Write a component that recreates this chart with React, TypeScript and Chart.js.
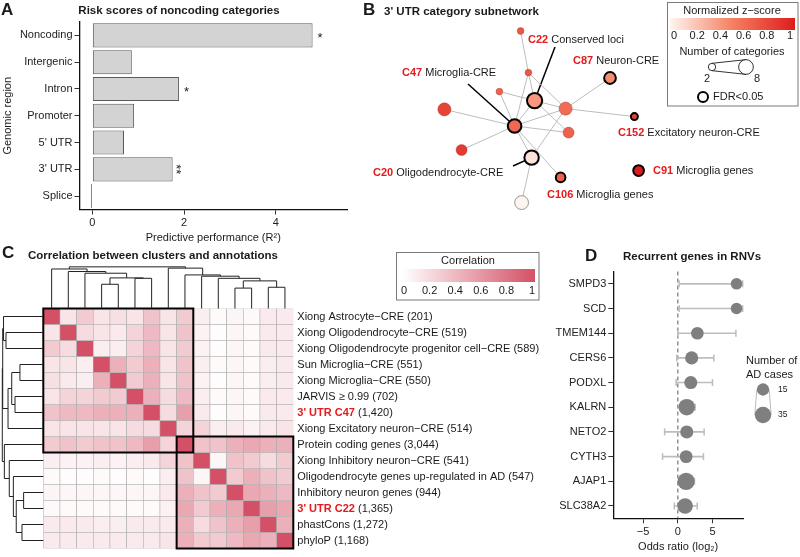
import React, { useEffect, useRef } from "react";
import { Chart, registerables } from "chart.js";

Chart.register(...registerables);

const W = 800;
const H = 557;
const FONT = "'Liberation Sans', Arial, Helvetica, sans-serif";
const RED = "#E41A1C";
const INK = "#1a1a1a";

/* ---------------- Panel A data ---------------- */
const regionsA = ["Noncoding", "Intergenic", "Intron", "Promoter", "5' UTR", "3' UTR", "Splice"];
const perfA = [4.8, 0.86, 1.89, 0.91, 0.69, 1.75, -0.03];
const signifA = ["*", "", "*", "", "", "**", ""];
const ticksA = [0, 2, 4];

/* ---------------- Panel B data ---------------- */
const nodeIds = ["", "", "", "C22", "C47", "", "", "C20", "", "C87", "", "", "C152", "C91", "C106"];
const nodeX = [5.03, 5.42, 3.97, 5.73, 4.73, 1.22, 2.08, 5.58, 5.08, 9.5, 7.28, 7.43, 10.72, 10.93, 7.03];
const nodeY = [0.3, 2.38, 3.33, 3.78, 5.05, 4.22, 6.25, 6.63, 8.88, 2.65, 4.18, 5.38, 4.58, 7.28, 7.62];
const nodeZ = [0.7, 0.7, 0.65, 0.4, 0.62, 0.8, 0.85, 0.08, 0.0, 0.45, 0.6, 0.65, 0.8, 1.0, 0.65];
const nodeCategories = [2, 2, 2, 11, 9, 7, 5, 10, 8, 7, 7, 5, 3, 6, 5];
const nodeFDR = [false, false, false, true, true, false, false, true, false, true, false, false, true, true, true];
const edgeFrom = [0, 1, 1, 1, 2, 2, 5, 6, 4, 4, 4, 4, 4, 3, 3, 10, 10, 10, 7];
const edgeTo = [1, 4, 3, 10, 4, 3, 4, 4, 3, 10, 11, 7, 14, 10, 11, 9, 12, 7, 8];
const labelNode = [3, 4, 9, 12, 13, 14, 7];
const labelDesc = ["Conserved loci", "Microglia-CRE", "Neuron-CRE", "Excitatory neuron-CRE", "Microglia genes", "Microglia genes", "Oligodendrocyte-CRE"];
const zTicks = [0, 0.2, 0.4, 0.6, 0.8, 1];
const categoryBreaks = [2, 8];

/* ---------------- Panel C data ---------------- */
const annotNames = [
  "Xiong Astrocyte\u2212CRE",
  "Xiong Oligodendrocyte\u2212CRE",
  "Xiong Oligodendrocyte progenitor cell\u2212CRE",
  "Sun Microglia\u2212CRE",
  "Xiong Microglia\u2212CRE",
  "JARVIS \u2265 0.99",
  "3' UTR C47",
  "Xiong Excitatory neuron\u2212CRE",
  "Protein coding genes",
  "Xiong Inhibitory neuron\u2212CRE",
  "Oligodendrocyte genes up-regulated in AD",
  "Inhibitory neuron genes",
  "3' UTR C22",
  "phastCons",
  "phyloP",
];
const annotCounts = ["(201)", "(519)", "(589)", "(551)", "(550)", "(702)", "(1,420)", "(514)", "(3,044)", "(541)", "(547)", "(944)", "(1,365)", "(1,272)", "(1,168)"];
const annotHighlight = [false, false, false, false, false, false, true, false, false, false, false, false, true, false, false];
const corrMatrix = [
  [1, 0.15, 0.3, 0.15, 0.18, 0.15, 0.35, 0.15, 0.3, 0.1, 0.03, 0.06, 0.04, 0.12, 0.12],
  [0.15, 1, 0.2, 0.15, 0.12, 0.25, 0.4, 0.15, 0.35, 0.08, 0.02, 0.05, 0.03, 0.12, 0.12],
  [0.3, 0.2, 1, 0.1, 0.1, 0.25, 0.4, 0.15, 0.3, 0.08, 0.02, 0.05, 0.03, 0.12, 0.12],
  [0.15, 0.15, 0.1, 1, 0.45, 0.3, 0.45, 0.15, 0.35, 0.1, 0.03, 0.05, 0.03, 0.1, 0.12],
  [0.18, 0.12, 0.1, 0.45, 1, 0.3, 0.45, 0.15, 0.35, 0.08, 0.02, 0.05, 0.03, 0.1, 0.12],
  [0.15, 0.25, 0.25, 0.3, 0.3, 1, 0.45, 0.2, 0.4, 0.1, 0.03, 0.05, 0.03, 0.12, 0.12],
  [0.35, 0.4, 0.4, 0.45, 0.45, 0.45, 1, 0.2, 0.55, 0.12, 0.02, 0.05, 0.03, 0.12, 0.12],
  [0.15, 0.15, 0.15, 0.15, 0.15, 0.2, 0.2, 1, 0.25, 0.25, 0.1, 0.12, 0.08, 0.12, 0.15],
  [0.3, 0.35, 0.3, 0.35, 0.35, 0.4, 0.55, 0.25, 1, 0.35, 0.35, 0.45, 0.5, 0.45, 0.45],
  [0.1, 0.08, 0.08, 0.1, 0.08, 0.1, 0.12, 0.25, 0.35, 1, 0.05, 0.35, 0.3, 0.2, 0.3],
  [0.03, 0.02, 0.02, 0.03, 0.02, 0.03, 0.02, 0.1, 0.35, 0.05, 1, 0.3, 0.45, 0.35, 0.3],
  [0.06, 0.05, 0.05, 0.05, 0.05, 0.05, 0.05, 0.12, 0.45, 0.35, 0.3, 1, 0.5, 0.45, 0.4],
  [0.04, 0.03, 0.03, 0.03, 0.03, 0.03, 0.03, 0.08, 0.5, 0.3, 0.45, 0.5, 1, 0.55, 0.5],
  [0.12, 0.12, 0.12, 0.1, 0.1, 0.12, 0.12, 0.12, 0.45, 0.2, 0.35, 0.45, 0.55, 1, 0.45],
  [0.12, 0.12, 0.12, 0.12, 0.12, 0.12, 0.12, 0.15, 0.45, 0.3, 0.3, 0.4, 0.5, 0.45, 1],
];
// linkage: [childA, childB, height]; leaves 0..14, merged nodes 15..
const colMerges = [
  [3, 4, 0.57], [5, 6, 0.71], [15, 16, 0.72], [2, 17, 0.83], [1, 18, 0.87], [0, 19, 0.93],
  [11, 12, 0.48], [13, 14, 0.5], [21, 22, 0.65], [10, 23, 0.71], [9, 24, 0.76], [8, 25, 0.79], [7, 26, 0.95],
  [20, 27, 0.98],
];
const rowMerges = [
  [1, 2, 0.91], [0, 15, 0.97], [3, 4, 0.57], [5, 6, 0.69], [17, 18, 0.77], [19, 7, 0.86], [16, 20, 0.99],
  [11, 12, 0.48], [13, 14, 0.52], [22, 23, 0.66], [10, 24, 0.73], [9, 25, 0.83], [8, 26, 0.95],
  [21, 27, 1.0],
];
const clusterBlocks = [[0, 8], [8, 14]];
const corrTicks = [0, 0.2, 0.4, 0.6, 0.8, 1];

/* ---------------- Panel D data ---------------- */
const genesD = ["SMPD3", "SCD", "TMEM144", "CERS6", "PODXL", "KALRN", "NETO2", "CYTH3", "AJAP1", "SLC38A2"];
const logOR = [8.47, 8.47, 2.82, 2.0, 1.87, 1.29, 1.29, 1.2, 1.2, 1.05];
const ciLow = [0.19, 0.2, 0.0, -0.15, -0.25, 0.3, -1.9, -2.2, 0.2, -0.5];
const ciHigh = [9.35, 9.35, 8.38, 5.2, 5.0, 2.5, 3.8, 3.7, 2.4, 2.8];
const adCases = [12, 12, 16, 18, 18, 36, 18, 17, 40, 30];
const ticksD = [-5, 0, 5];
const caseBreaks = [15, 35];

/* ---------------- helpers ---------------- */
function mix(a: number[], b: number[], t: number) {
  return a.map((v, i) => Math.round(v + (b[i] - v) * t));
}
function corrColor(v: number) {
  const t = Math.max(0, Math.min(1, v));
  return `rgb(${mix([255, 255, 255], [212, 80, 102], t).join(",")})`;
}
function zColor(z: number) {
  const a = [255, 245, 240], m = [245, 128, 98], b = [222, 28, 28];
  const c = z < 0.5 ? mix(a, m, z / 0.5) : mix(m, b, (z - 0.5) / 0.5);
  return `rgb(${c.join(",")})`;
}
const nodeRadius = (n: number) => 2.6 * Math.sqrt(n);
const caseRadius = (n: number) => 2.3 + Math.sqrt(n);

function text(ctx: any, s: string, x: number, y: number, size: number, o: any = {}) {
  ctx.font = `${o.bold ? "bold " : ""}${size}px ${FONT}`;
  ctx.fillStyle = o.color || INK;
  ctx.textAlign = o.align || "left";
  ctx.textBaseline = "middle";
  ctx.fillText(s, x, y);
  return ctx.measureText(s).width;
}

function dendro(n: number, merges: number[][]) {
  const pos: number[] = [];
  const hgt: number[] = [];
  for (let i = 0; i < n; i++) { pos.push(i); hgt.push(0); }
  merges.forEach(([a, b, h]) => { pos.push((pos[a] + pos[b]) / 2); hgt.push(h); });
  return { pos, hgt };
}

const axisFont = { family: FONT, size: 11 };
const gridCfg = { drawOnChartArea: false, drawTicks: true, tickLength: 5, color: "#333", lineWidth: 1, offset: false };
const borderCfg = { display: true, color: "#111", width: 1.3 };

/* ---------------- Panel A ---------------- */
function makeA(): any {
  const plug = {
    id: "panelA",
    afterDatasetsDraw(chart: any) {
      const { ctx } = chart;
      const xs = chart.scales.x, ys = chart.scales.y;
      ctx.save();
      signifA.forEach((s, i) => {
        if (!s) return;
        const x = xs.getPixelForValue(Math.max(perfA[i], 0));
        const y = ys.getPixelForValue(i);
        if (s.length === 1) {
          text(ctx, s, x + 5, y + 3, 13);
        } else {
          ctx.save();
          ctx.translate(x + 6, y);
          ctx.rotate(Math.PI / 2);
          text(ctx, s, 0, 3, 13, { align: "center" });
          ctx.restore();
        }
      });
      text(ctx, "A", 1, 10, 17, { bold: true });
      text(ctx, "Risk scores of noncoding categories", 179, 11, 11.5, { bold: true, align: "center" });
      ctx.restore();
    },
  };
  return {
    type: "bar",
    data: {
      labels: regionsA,
      datasets: [{
        data: perfA, backgroundColor: "#D3D3D3", borderColor: "#5A5A5A", borderWidth: 1,
        borderSkipped: false, barPercentage: 0.9, categoryPercentage: 1,
      }],
    },
    options: {
      indexAxis: "y", responsive: false, animation: false,
      plugins: { legend: { display: false }, tooltip: { enabled: false } },
      layout: { padding: { left: 0, top: 22, right: 453, bottom: 312.5 } },
      scales: {
        x: {
          type: "linear", min: -0.28, max: 5.55,
          afterBuildTicks: (s: any) => { s.ticks = ticksA.map((v) => ({ value: v })); },
          grid: gridCfg, border: borderCfg,
          ticks: { font: axisFont, color: "#222", padding: 2, maxRotation: 0 },
          title: { display: true, text: "Predictive performance (R\u00B2)", font: axisFont, color: INK, padding: { top: 0, bottom: 0 } },
          afterFit: (s: any) => { s.height = 35; },
        },
        y: {
          type: "category", grid: gridCfg, border: borderCfg,
          ticks: { font: axisFont, color: "#222", padding: 2 },
          title: { display: true, text: "Genomic region", font: axisFont, color: INK, padding: { top: 1, bottom: 0 } },
          afterFit: (s: any) => { s.width = 79.5; },
        },
      },
    },
    plugins: [plug],
  };
}

/* ---------------- Panel B ---------------- */
const labelLayoutB = [
  { x: 528, y: 40, lx: 555, ly: 47 },
  { x: 402, y: 73, lx: 468, ly: 84 },
  { x: 573, y: 61 },
  { x: 618, y: 133 },
  { x: 653, y: 171 },
  { x: 547, y: 195 },
  { x: 373, y: 173, lx: 513, ly: 166 },
];

function makeB(): any {
  const bw = nodeFDR.map((f, i) => (f ? 2 : nodeZ[i] < 0.05 ? 0.9 : 0.6));
  const bc = nodeFDR.map((f, i) => (f ? "#000" : nodeZ[i] < 0.05 ? "#8a8a8a" : "rgba(150,40,25,0.6)"));
  const plug = {
    id: "panelB",
    beforeDatasetsDraw(chart: any) {
      const { ctx } = chart;
      const xs = chart.scales.x, ys = chart.scales.y;
      ctx.save();
      ctx.strokeStyle = "#000";
      ctx.lineWidth = 1.5;
      labelNode.forEach((n, k) => {
        const L: any = labelLayoutB[k];
        if (L.lx === undefined) return;
        ctx.beginPath();
        ctx.moveTo(L.lx, L.ly);
        ctx.lineTo(xs.getPixelForValue(nodeX[n]), ys.getPixelForValue(nodeY[n]));
        ctx.stroke();
      });
      ctx.restore();
    },
    afterDatasetsDraw(chart: any) {
      const { ctx } = chart;
      ctx.save();
      text(ctx, "B", 363, 10, 17, { bold: true });
      text(ctx, "3' UTR category subnetwork", 384, 12, 11.5, { bold: true });
      labelNode.forEach((n, k) => {
        const L = labelLayoutB[k];
        const w = text(ctx, nodeIds[n], L.x, L.y, 11, { bold: true, color: RED });
        text(ctx, " " + labelDesc[k], L.x + w, L.y, 11);
      });
      // legend box
      ctx.strokeStyle = "#7a7a7a";
      ctx.lineWidth = 1;
      ctx.strokeRect(667.5, 2.5, 130.5, 103.5);
      text(ctx, "Normalized z\u2212score", 732, 10.5, 11, { align: "center" });
      const g = ctx.createLinearGradient(670, 0, 795, 0);
      for (let i = 0; i <= 10; i++) g.addColorStop(i / 10, zColor(i / 10));
      ctx.fillStyle = g;
      ctx.fillRect(670, 18, 125, 12);
      zTicks.forEach((t) => text(ctx, String(t), 674 + t * 116, 36, 11, { align: "center" }));
      text(ctx, "Number of categories", 732, 52, 11, { align: "center" });
      const r1 = nodeRadius(categoryBreaks[0]), r2 = nodeRadius(categoryBreaks[1]);
      const c1 = [712, 67], c2 = [746, 67];
      ctx.strokeStyle = "#000";
      ctx.lineWidth = 0.8;
      ctx.beginPath();
      ctx.moveTo(c1[0], c1[1] - r1); ctx.lineTo(c2[0], c2[1] - r2);
      ctx.moveTo(c1[0], c1[1] + r1); ctx.lineTo(c2[0], c2[1] + r2);
      ctx.stroke();
      [[c1, r1], [c2, r2]].forEach(([c, r]: any) => {
        ctx.beginPath(); ctx.arc(c[0], c[1], r, 0, Math.PI * 2);
        ctx.fillStyle = "#fff"; ctx.fill(); ctx.stroke();
      });
      text(ctx, String(categoryBreaks[0]), 707, 79, 11, { align: "center" });
      text(ctx, String(categoryBreaks[1]), 757, 79, 11, { align: "center" });
      ctx.lineWidth = 2;
      ctx.beginPath(); ctx.arc(703, 97, 5, 0, Math.PI * 2); ctx.stroke();
      text(ctx, "FDR<0.05", 713, 97, 11);
      ctx.restore();
    },
  };
  const edgeSets = edgeFrom.map((a, k) => {
    const b = edgeTo[k];
    return {
      type: "scatter",
      data: [{ x: nodeX[a], y: nodeY[a] }, { x: nodeX[b], y: nodeY[b] }],
      showLine: true, borderColor: "#BDBDBD", borderWidth: 1, pointRadius: 0, order: 1, clip: false,
    };
  });
  return {
    type: "scatter",
    data: {
      datasets: [
        {
          data: nodeX.map((x, i) => ({ x, y: nodeY[i] })),
          pointRadius: nodeCategories.map((n, i) => nodeRadius(n) - bw[i] / 2),
          pointBackgroundColor: nodeZ.map(zColor),
          pointBorderColor: bc, pointBorderWidth: bw, order: 0, clip: false,
        },
        ...edgeSets,
      ],
    },
    options: {
      responsive: false, animation: false,
      plugins: { legend: { display: false }, tooltip: { enabled: false } },
      layout: { padding: { left: 420, right: 140, top: 25, bottom: 352 } },
      scales: {
        x: { type: "linear", min: 0, max: 12, display: false },
        y: { type: "linear", min: 0, max: 9, reverse: true, display: false },
      },
    },
    plugins: [plug],
  };
}

/* ---------------- Panel C ---------------- */
function makeC(): any {
  const n = annotNames.length;
  const plug = {
    id: "panelC",
    afterDatasetsDraw(chart: any) {
      const { ctx, chartArea: ca } = chart;
      const xs = chart.scales.x, ys = chart.scales.y;
      ctx.save();
      const bwid = (ca.right - ca.left) / n;
      ctx.strokeStyle = "#000";
      ctx.lineWidth = 2;
      clusterBlocks.forEach(([a, b]) => {
        const x1 = xs.getPixelForValue(a) - bwid / 2, x2 = xs.getPixelForValue(b) + bwid / 2;
        const y1 = ys.getPixelForValue(a), y2 = ys.getPixelForValue(b + 1);
        ctx.strokeRect(x1, y1, x2 - x1, y2 - y1);
      });
      ctx.strokeStyle = "#222";
      ctx.lineWidth = 1;
      const top = dendro(n, colMerges);
      const yH = (h: number) => ca.top - h * 42.5;
      ctx.beginPath();
      colMerges.forEach(([a, b, h]) => {
        const xa = xs.getPixelForValue(top.pos[a]), xb = xs.getPixelForValue(top.pos[b]);
        ctx.moveTo(xa, yH(top.hgt[a])); ctx.lineTo(xa, yH(h)); ctx.lineTo(xb, yH(h)); ctx.lineTo(xb, yH(top.hgt[b]));
      });
      ctx.stroke();
      const left = dendro(n, rowMerges);
      const xH = (h: number) => ca.left - h * 41;
      ctx.beginPath();
      rowMerges.forEach(([a, b, h]) => {
        const ya = ys.getPixelForValue(left.pos[a] + 0.5), yb = ys.getPixelForValue(left.pos[b] + 0.5);
        ctx.moveTo(xH(left.hgt[a]), ya); ctx.lineTo(xH(h), ya); ctx.lineTo(xH(h), yb); ctx.lineTo(xH(left.hgt[b]), yb);
      });
      ctx.stroke();
      annotNames.forEach((name, r) => {
        const y = ys.getPixelForValue(r + 0.5);
        const x = ca.right + 4;
        if (annotHighlight[r]) {
          const w = text(ctx, name, x, y, 11, { bold: true, color: RED });
          text(ctx, " " + annotCounts[r], x + w, y, 11);
        } else {
          text(ctx, name + " " + annotCounts[r], x, y, 11);
        }
      });
      text(ctx, "C", 2, 253, 17, { bold: true });
      text(ctx, "Correlation between clusters and annotations", 28, 256, 11.5, { bold: true });
      ctx.strokeStyle = "#7a7a7a";
      ctx.lineWidth = 1;
      ctx.strokeRect(396.5, 252.5, 142.5, 47.5);
      text(ctx, "Correlation", 468, 261, 11, { align: "center" });
      const g = ctx.createLinearGradient(402, 0, 535, 0);
      g.addColorStop(0, corrColor(0));
      g.addColorStop(1, corrColor(1));
      ctx.fillStyle = g;
      ctx.fillRect(402, 269, 133, 13);
      corrTicks.forEach((t) => text(ctx, String(t), 404 + t * 128, 290.5, 11, { align: "center" }));
      ctx.restore();
    },
  };
  return {
    type: "bar",
    data: {
      labels: annotNames,
      datasets: corrMatrix.map((row) => ({
        data: row.map(() => 1),
        backgroundColor: row.map(corrColor),
        borderColor: "#A8A8A8", borderWidth: 0.6, borderSkipped: false,
        barPercentage: 1, categoryPercentage: 1,
      })),
    },
    options: {
      responsive: false, animation: false,
      plugins: { legend: { display: false }, tooltip: { enabled: false } },
      layout: { padding: { left: 43.3, right: 506.7, top: 308.5, bottom: 8.5 } },
      scales: {
        x: { type: "category", stacked: true, display: false },
        y: { type: "linear", stacked: true, min: 0, max: 15, reverse: true, display: false },
      },
    },
    plugins: [plug],
  };
}

/* ---------------- Panel D ---------------- */
function makeD(): any {
  const plug = {
    id: "panelD",
    beforeDatasetsDraw(chart: any) {
      const { ctx, chartArea: ca } = chart;
      const x0 = chart.scales.x.getPixelForValue(0);
      ctx.save();
      ctx.strokeStyle = "#808080";
      ctx.lineWidth = 1.3;
      ctx.setLineDash([4, 3]);
      ctx.beginPath(); ctx.moveTo(x0, ca.top); ctx.lineTo(x0, ca.bottom); ctx.stroke();
      ctx.restore();
    },
    afterDraw(chart: any) {
      const { ctx } = chart;
      ctx.save();
      text(ctx, "D", 585, 256, 17, { bold: true });
      text(ctx, "Recurrent genes in RNVs", 623, 257, 11.5, { bold: true });
      text(ctx, "Number of", 746, 361, 11);
      text(ctx, "AD cases", 746, 375, 11);
      const r1 = caseRadius(caseBreaks[0]), r2 = caseRadius(caseBreaks[1]);
      const cx = 763, y1 = 389.5, y2 = 415;
      ctx.strokeStyle = "#BBBBBB";
      ctx.lineWidth = 1;
      ctx.beginPath();
      ctx.moveTo(cx - r1, y1); ctx.lineTo(cx - r2, y2);
      ctx.moveTo(cx + r1, y1); ctx.lineTo(cx + r2, y2);
      ctx.stroke();
      ctx.fillStyle = "#7F7F7F";
      ctx.beginPath(); ctx.arc(cx, y1, r1, 0, Math.PI * 2); ctx.fill();
      ctx.beginPath(); ctx.arc(cx, y2, r2, 0, Math.PI * 2); ctx.fill();
      text(ctx, String(caseBreaks[0]), 778, y1, 8.5);
      text(ctx, String(caseBreaks[1]), 778, y2, 8.5);
      ctx.restore();
    },
  };
  const ciSets = genesD.map((g, i) => ({
    data: [{ x: ciLow[i], y: g }, { x: ciHigh[i], y: g }],
    showLine: true, borderColor: "#BDBDBD", borderWidth: 1.6,
    pointStyle: "line", rotation: 90, pointRadius: 3.5,
    pointBorderColor: "#BDBDBD", pointBorderWidth: 1.5, order: 1, clip: false,
  }));
  return {
    type: "scatter",
    data: {
      datasets: [
        {
          data: genesD.map((g, i) => ({ x: logOR[i], y: g })),
          pointRadius: adCases.map(caseRadius),
          pointBackgroundColor: "#7F7F7F", pointBorderWidth: 0, order: 0, clip: false,
        },
        ...ciSets,
      ],
    },
    options: {
      responsive: false, animation: false,
      plugins: { legend: { display: false }, tooltip: { enabled: false } },
      layout: { padding: { left: 540, right: 57, top: 271.5, bottom: 3.7 } },
      scales: {
        x: {
          type: "linear", min: -9.3, max: 9.4, offset: false,
          afterBuildTicks: (s: any) => { s.ticks = ticksD.map((v) => ({ value: v })); },
          grid: gridCfg, border: borderCfg,
          ticks: { font: axisFont, color: "#222", padding: 2, maxRotation: 0, callback: (v: any) => (v < 0 ? "\u2212" + Math.abs(v) : String(v)) },
          title: { display: true, text: "Odds ratio (log\u2082)", font: axisFont, color: INK, padding: { top: 0, bottom: 0 } },
          afterFit: (s: any) => { s.height = 35; },
        },
        y: {
          type: "category", labels: genesD, offset: true, grid: gridCfg, border: borderCfg,
          ticks: { font: axisFont, color: "#222", padding: 2 },
          afterFit: (s: any) => { s.width = 73.3; },
        },
      },
    },
    plugins: [plug],
  };
}

function ChartCanvas({ make }: { make: () => any }) {
  const ref = useRef<HTMLCanvasElement>(null);
  useEffect(() => {
    const chart = new Chart(ref.current as HTMLCanvasElement, make());
    return () => chart.destroy();
  }, [make]);
  return (
    <canvas
      ref={ref}
      width={W}
      height={H}
      style={{ position: "absolute", left: 0, top: 0, width: W, height: H, pointerEvents: "none" }}
    />
  );
}

export default function App() {
  return (
    <div style={{ position: "absolute", left: 0, top: 0, width: W, height: H, background: "#fff", overflow: "hidden" }}>
      <ChartCanvas make={makeA} />
      <ChartCanvas make={makeB} />
      <ChartCanvas make={makeC} />
      <ChartCanvas make={makeD} />
    </div>
  );
}
